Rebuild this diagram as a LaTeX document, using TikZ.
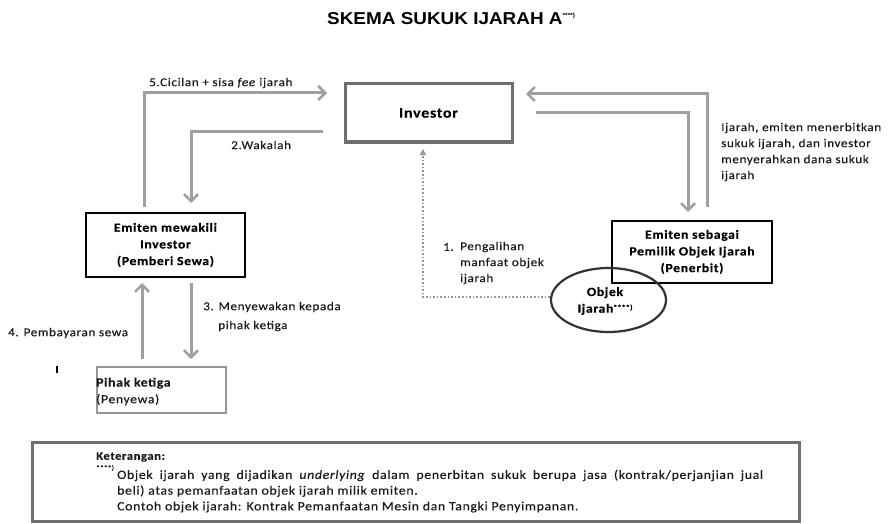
\documentclass[tikz,border=0pt]{standalone}
\usepackage{fontspec}
\setmainfont{Carlito}[FakeStretch=1.1,LetterSpace=5,FakeBold=0.3]
\newfontfamily\titlef{Liberation Sans}[FakeStretch=1.1]
\usetikzlibrary{arrows.meta,shapes.geometric}
\definecolor{arrgray}{RGB}{160,160,160}
\definecolor{boxgray}{RGB}{110,110,110}
\definecolor{dotgray}{RGB}{150,150,150}
\definecolor{lightbox}{RGB}{150,150,150}
\begin{document}
\begin{tikzpicture}[x=1pt,y=-1pt,
  lbl/.style={font=\fontsize{12}{16}\selectfont, inner sep=0pt, text=black!90},
  blbl/.style={font=\bfseries\fontsize{12.5}{16.7}\selectfont, align=center, inner sep=0pt},
  garrow/.style={draw=arrgray, line width=3pt, -{Straight Barb[length=7pt,width=14pt,line width=2.5pt]}},
  dotarrow/.style={draw=dotgray, line width=1.6pt, dotted, -{Triangle[length=6pt,width=6pt]}},
  blackbox/.style={draw=black, line width=2.8pt, rectangle, inner sep=0pt},
]
\useasboundingbox (0,0) rectangle (891,524);
% title
\node[anchor=west, inner sep=0pt, font=\titlef\bfseries\fontsize{17.2}{18}\selectfont] (title) at (327,19)
  {SKEMA SUKUK IJARAH A\raisebox{7pt}{\fontsize{6}{6}\selectfont ****)}};
% boxes
\node[draw=boxgray, line width=3pt, rectangle, minimum width=167pt, minimum height=58pt, inner sep=0pt,
  font=\bfseries\fontsize{14.5}{16}\selectfont] (inv) at (428.5,113) {Investor};
\node[blackbox, minimum width=159pt, minimum height=64pt, blbl] (em1) at (165.5,245)
  {Emiten mewakili\\Investor\\(Pemberi Sewa)};
\node[blackbox, minimum width=160pt, minimum height=62pt, blbl] (em2) at (692,252)
  {Emiten sebagai\\Pemilik Objek Ijarah\\(Penerbit)};
\node[draw=black!80, line width=2.2pt, ellipse, minimum width=115pt, minimum height=64pt, inner sep=0pt] (obj) at (608.5,300) {};
\node[blbl] (objt) at (605,301) {Objek\\Ijarah\raisebox{3pt}{\fontsize{7}{7}\selectfont ****)}};
\node[draw=lightbox, line width=2.5pt, rectangle, minimum width=129pt, minimum height=46pt, inner sep=0pt] (pihak) at (161.5,390) {};
\node[lbl, anchor=west, align=left, font=\fontsize{12.5}{16.7}\selectfont] (pihakt) at (96,391.5) {\textbf{Pihak ketiga}\\(Penyewa)};
\node[draw=boxgray, line width=3pt, rectangle, minimum width=767pt, minimum height=79pt, inner sep=0pt] (leg) at (415.5,481.5) {};
% connector end points
\coordinate (a5s) at (144,207);
\coordinate (a5e) at (327,93);
\coordinate (a2s) at (323,132);
\coordinate (a2e) at (191,203);
\coordinate (rts) at (707,207);
\coordinate (rte) at (526,94);
\coordinate (rbs) at (536,113);
\coordinate (rbe) at (688,212);
\coordinate (dote) at (423,149);
\coordinate (a4s) at (142,359);
\coordinate (a4e) at (142,283);
\coordinate (a3s) at (191,283);
\coordinate (a3e) at (191,359);
% connectors
\draw[garrow] (a5s) |- (a5e);
\draw[garrow] (a2s) -| (a2e);
\draw[garrow] (rts) |- (rte);
\draw[garrow] (rbs) -| (rbe);
\draw[dotarrow] (obj.west |- 0,297) -| (dote);
\draw[garrow] (a4s) -- (a4e);
\draw[garrow] (a3s) -- (a3e);
% labels
\node[lbl, anchor=west] (l5) at (149,83) {5.Cicilan + sisa \textit{fee} ijarah};
\node[lbl, anchor=west] (l2) at (231,145) {2.Wakalah};
\node[lbl, anchor=west] (lr1) at (721,128) {Ijarah, emiten menerbitkan};
\node[lbl, anchor=west] (lr2) at (721,144) {sukuk ijarah, dan investor};
\node[lbl, anchor=west] (lr3) at (721,160) {menyerahkan dana sukuk};
\node[lbl, anchor=west] (lr4) at (721,176) {ijarah};
\node[lbl, anchor=west] (l1n) at (443,247) {1.};
\node[lbl, anchor=west] (l1a) at (460,247) {Pengalihan};
\node[lbl, anchor=west] (l1b) at (460,263) {manfaat objek};
\node[lbl, anchor=west] (l1c) at (460,279) {ijarah};
\node[lbl, anchor=west] (l4) at (8,333) {4. Pembayaran sewa};
\node[lbl, anchor=west] (l3) at (203,307) {3. Menyewakan kepada};
\node[lbl, anchor=west] (l3b) at (218,326) {pihak ketiga};
\draw[line width=2pt] (57,366) -- (57,373);
% legend
\node[lbl, anchor=west, font=\bfseries\fontsize{11.5}{14}\selectfont] (ket) at (96,457) {Keterangan:};
\node[lbl, anchor=west, font=\fontsize{6.5}{7}\selectfont] (stars) at (96,468) {****)};
\node[lbl, anchor=north west, text width=646pt, align=justify, font=\fontsize{12.6}{15.7}\selectfont] (legt) at (117,469.5)
  {Objek ijarah yang dijadikan \textit{underlying} dalam penerbitan sukuk berupa jasa (kontrak/perjanjian jual\linebreak
   beli) atas pemanfaatan objek ijarah milik emiten.\\
   Contoh objek ijarah: Kontrak Pemanfaatan Mesin dan Tangki Penyimpanan.};
\end{tikzpicture}
\end{document}
